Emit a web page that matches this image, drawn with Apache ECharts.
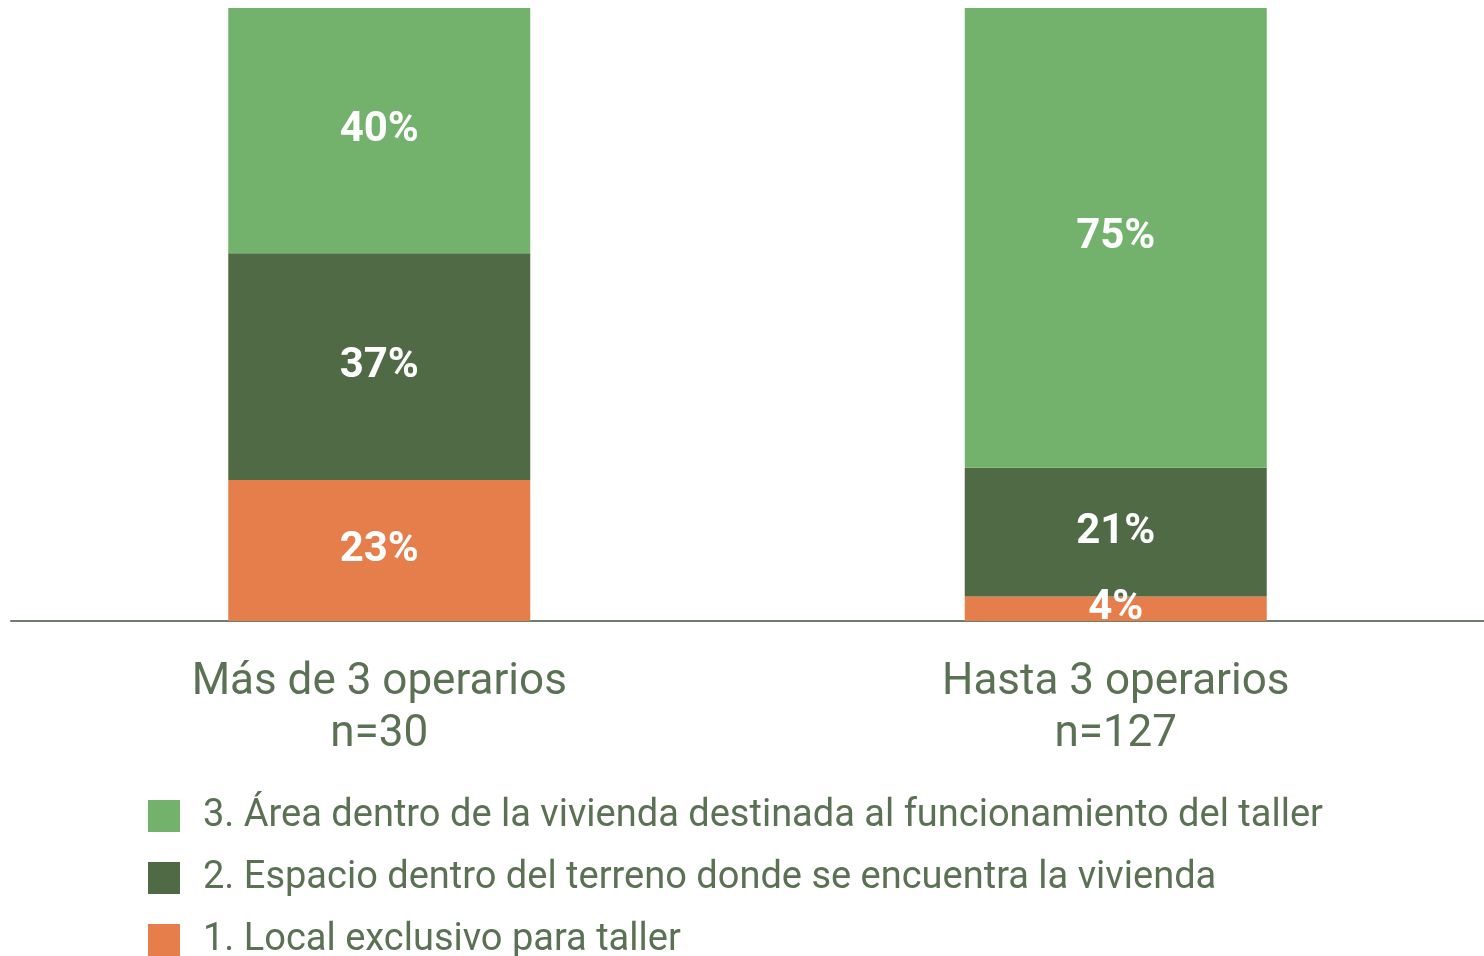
<!DOCTYPE html>
<html>
<head>
<meta charset="utf-8">
<script src="https://cdn.jsdelivr.net/npm/echarts@6/dist/echarts.min.js"></script>
<style>
  html, body { margin: 0; padding: 0; background: #fff; }
  #main { width: 1484px; height: 956px; }
</style>
</head>
<body>
<div id="main"></div>
<script>
// categorias y valores (%)
const categories = ['Más de 3 operarios\nn=30', 'Hasta 3 operarios\nn=127']
const seriesNames = [
  '1. Local exclusivo para taller',
  '2. Espacio dentro del terreno donde se encuentra la vivienda',
  '3. Área dentro de la vivienda destinada al funcionamiento del taller'
]
const localValues = [23, 4]
const espacioValues = [37, 21]
const areaValues = [40, 75]

const colors = ['#e67e4b', '#4f6a45', '#72b26c']
const textColor = '#5b7153'

let myChart = echarts.init(document.getElementById('main'))

function makeSeries (name, data, color) {
  return {
    name: name,
    type: 'bar',
    stack: 'total',
    barWidth: 302,
    data: data,
    itemStyle: { color: color },
    label: {
      show: true,
      position: 'inside',
      formatter: '{c}%',
      color: '#ffffff',
      fontFamily: 'Roboto',
      fontWeight: 'bold',
      fontSize: 42
    }
  }
}

// una leyenda por fila, de arriba abajo: 3, 2, 1
function makeLegend (name, top) {
  return {
    orient: 'vertical',
    left: 148,
    top: top,
    padding: 0,
    itemWidth: 32,
    itemHeight: 32,
    icon: 'rect',
    data: [name],
    textStyle: {
      color: textColor,
      fontSize: 38,
      lineHeight: 32,
      padding: [0, 0, 0, 18]
    }
  }
}

myChart.setOption({
  animation: false,
  textStyle: { fontFamily: 'Roboto' },
  grid: {
    left: 11,
    right: -4,
    top: 8,
    bottom: 335
  },
  legend: [
    makeLegend(seriesNames[2], 797),
    makeLegend(seriesNames[1], 859),
    makeLegend(seriesNames[0], 921)
  ],
  xAxis: {
    type: 'category',
    data: categories,
    axisTick: { show: false },
    axisLine: { lineStyle: { color: '#6b806b', width: 2 } },
    axisLabel: {
      color: textColor,
      fontSize: 44,
      lineHeight: 52,
      margin: 36
    }
  },
  yAxis: {
    type: 'value',
    min: 0,
    max: 100,
    show: false,
    splitLine: { show: false }
  },
  series: [
    makeSeries(seriesNames[0], localValues, colors[0]),
    makeSeries(seriesNames[1], espacioValues, colors[1]),
    makeSeries(seriesNames[2], areaValues, colors[2])
  ]
})
</script>
</body>
</html>
